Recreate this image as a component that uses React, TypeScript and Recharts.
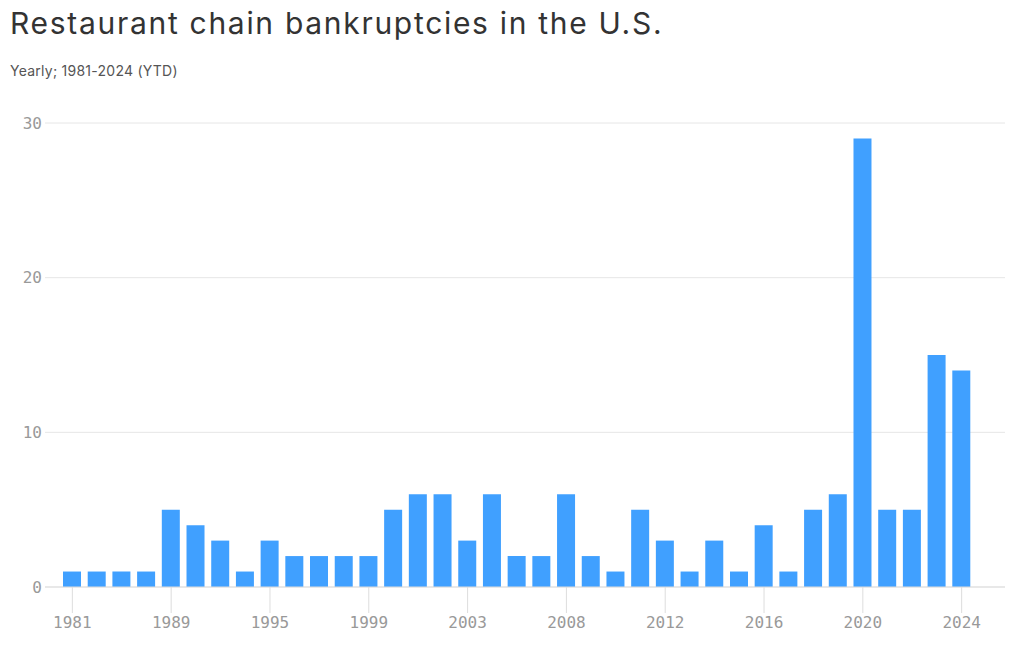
import { Bar, BarChart, CartesianGrid, XAxis, YAxis } from 'recharts';

const years = [
  '1981', '1983', '1985', '1987', '1989', '1990', '1992', '1994', '1995', '1996',
  '1997', '1998', '1999', '2000', '2001', '2002', '2003', '2004', '2005', '2007',
  '2008', '2009', '2010', '2011', '2012', '2013', '2014', '2015', '2016', '2017',
  '2018', '2019', '2020', '2021', '2022', '2023', '2024'
];
const bankruptcies = [
  1, 1, 1, 1, 5, 4, 3, 1, 3, 2,
  2, 2, 2, 5, 6, 6, 3, 6, 2, 2,
  6, 2, 1, 5, 3, 1, 3, 1, 4, 1,
  5, 6, 29, 5, 5, 15, 14
];
const yTicks = [0, 10, 20, 30];

const data = years.map((year, i) => ({ year, value: bankruptcies[i] }));

const mono = '"DejaVu Sans Mono", monospace';

export default function App() {
  return (
    <div style={{ position: 'relative', width: 1024, height: 649, background: '#fff', fontFamily: 'Inter, sans-serif' }}>
      <style>{'body{margin:0}'}</style>
      <div style={{ position: 'absolute', left: 10, top: 5, fontSize: 30, color: '#333', letterSpacing: 1.7, whiteSpace: 'nowrap' }}>
        Restaurant chain bankruptcies in the U.S.
      </div>
      <div style={{ position: 'absolute', left: 10, top: 62, fontSize: 14, color: '#555', letterSpacing: 0.25 }}>
        Yearly; 1981-2024 (YTD)
      </div>
      <div style={{ position: 'absolute', left: 0, top: 0 }}>
        <BarChart
          width={1024}
          height={649}
          data={data}
          margin={{ top: 123, right: 19, bottom: 22, left: 0 }}
          barSize={18}
        >
          <CartesianGrid vertical={false} stroke="#e6e6e6" />
          <XAxis
            dataKey="year"
            interval={3}
            height={40}
            padding={{ left: 15, right: 31 }}
            stroke="#dddddd"
            tickSize={26}
            tickMargin={4}
            tick={{ fill: '#999', fontSize: 16, fontFamily: mono }}
          />
          <YAxis
            width={45}
            domain={[0, 30]}
            ticks={yTicks}
            axisLine={false}
            tickLine={false}
            tickSize={0}
            tickMargin={3}
            tick={{ fill: '#999', fontSize: 16, fontFamily: mono }}
          />
          <Bar dataKey="value" fill="#40a0ff" isAnimationActive={false} />
        </BarChart>
      </div>
    </div>
  );
}
